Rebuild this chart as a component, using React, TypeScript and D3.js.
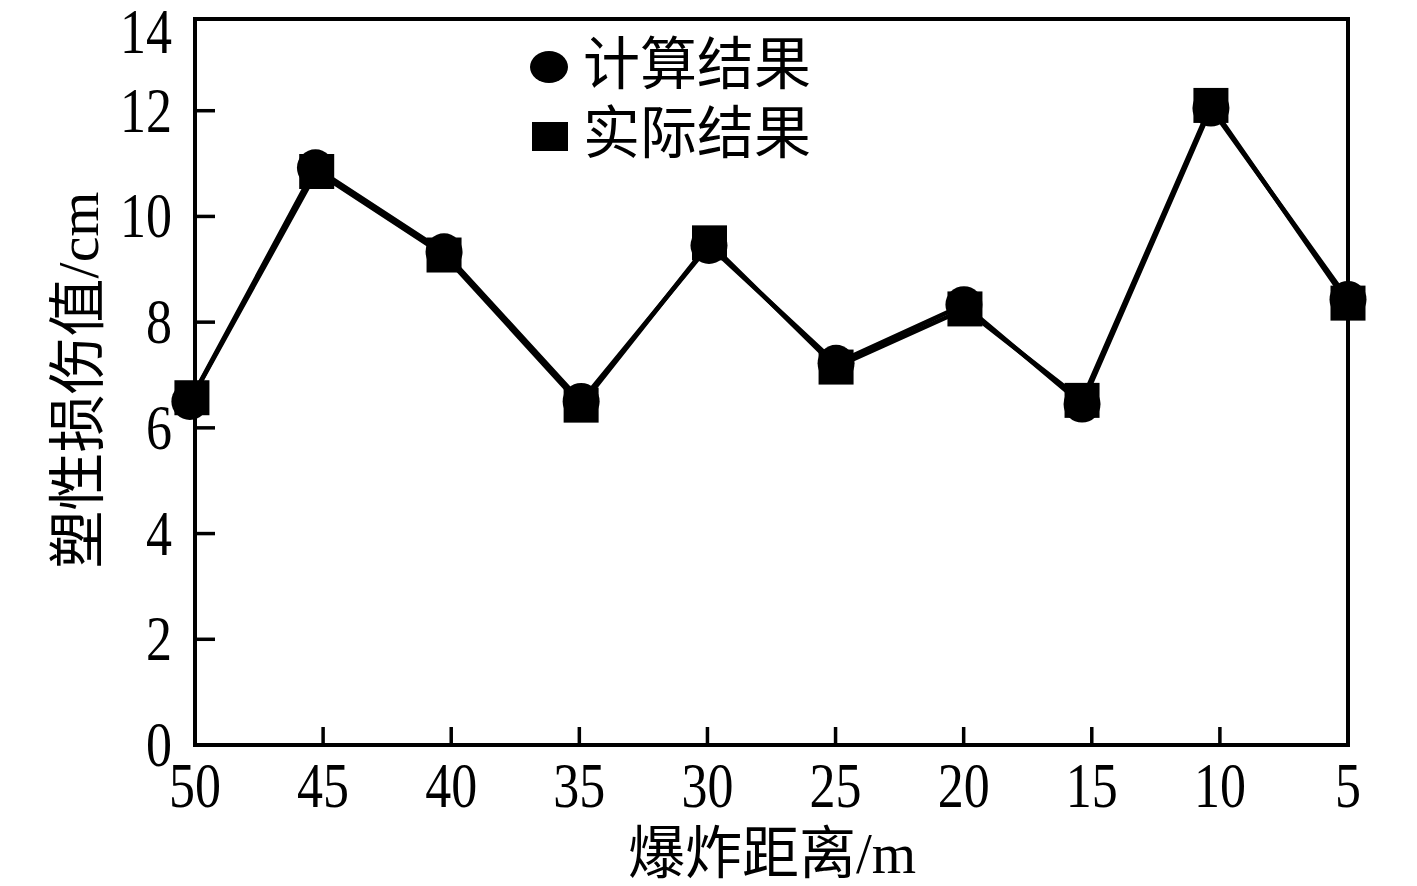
import React from "react";
import * as d3 from "d3";

// Tick values
const xTicks = [50, 45, 40, 35, 30, 25, 20, 15, 10, 5];
const yTicks = [0, 2, 4, 6, 8, 10, 12, 14];

// 计算结果 (circles): distance positions as read, values
const calcX = [50.2, 45.3, 40.28, 34.93, 29.94, 24.98, 19.99, 15.38, 10.35, 5.0];
const calcY = [6.5, 10.92, 9.33, 6.5, 9.45, 7.22, 8.33, 6.45, 12.05, 8.43];

// 实际结果 (squares)
const actualX = [50.12, 45.25, 40.28, 34.93, 29.92, 24.98, 19.95, 15.38, 10.35, 5.0];
const actualY = [6.57, 10.85, 9.27, 6.43, 9.5, 7.15, 8.25, 6.52, 12.1, 8.36];

const legendLabels = ["计算结果", "实际结果"];
const xTitle = "爆炸距离/m";
const yTitle = "塑性损伤值/cm";

const W = 1417;
const H = 886;
const left = 195;
const right = 1348;
const frameTop = 19;
const bottom = 745;

const FONT = "'Liberation Serif', 'Times New Roman', 'Noto Sans CJK SC', serif";
const TICK_FS = 52;
const STRETCH = 1.2;

export default function App() {
  const x = d3.scaleLinear().domain([50, 5]).range([left, right]);
  const y = d3.scaleLinear().domain([0, 14]).range([bottom, 5]);

  const calc = calcX.map((d, i) => [x(d), y(calcY[i])] as [number, number]);
  const actual = actualX.map((d, i) => [x(d), y(actualY[i])] as [number, number]);
  const line = d3.line();

  const sq = 35;
  const r = 18.5;

  return (
    <svg
      width={W}
      height={H}
      style={{ position: "absolute", left: 0, top: 0, background: "#fff" }}
      fontFamily={FONT}
    >
      <rect x={0} y={0} width={W} height={H} fill="#fff" />
      {/* frame */}
      <rect
        x={left}
        y={frameTop}
        width={right - left}
        height={bottom - frameTop}
        fill="none"
        stroke="#000"
        strokeWidth={4}
      />
      {/* y ticks */}
      {yTicks.map((t) => {
        const yy = y(t);
        const inside = yy >= frameTop && yy < bottom - 1;
        const ly = Math.max(yy, frameTop + 13) + 21;
        return (
          <g key={"y" + t}>
            {inside && (
              <line x1={left} x2={left + 20} y1={yy} y2={yy} stroke="#000" strokeWidth={3.5} />
            )}
            <text
              transform={`translate(172, ${ly}) scale(1, ${STRETCH})`}
              textAnchor="end"
              fontSize={TICK_FS}
              fill="#000"
            >
              {t}
            </text>
          </g>
        );
      })}
      {/* x ticks */}
      {xTicks.map((t, i) => {
        const xx = x(t);
        const inner = i > 0 && i < xTicks.length - 1;
        return (
          <g key={"x" + t}>
            {inner && (
              <line x1={xx} x2={xx} y1={bottom} y2={bottom - 18} stroke="#000" strokeWidth={3.5} />
            )}
            <text
              transform={`translate(${xx}, 807) scale(1, ${STRETCH})`}
              textAnchor="middle"
              fontSize={TICK_FS}
              fill="#000"
            >
              {t}
            </text>
          </g>
        );
      })}
      {/* axis titles */}
      <text x={772} y={873} textAnchor="middle" fontSize={57} fill="#000">
        {xTitle}
      </text>
      <text
        transform={`translate(98, 380) rotate(-90)`}
        textAnchor="middle"
        fontSize={58}
        fill="#000"
      >
        {yTitle}
      </text>
      {/* lines */}
      <path d={line(calc) || ""} fill="none" stroke="#000" strokeWidth={4.5} strokeLinejoin="round" />
      <path d={line(actual) || ""} fill="none" stroke="#000" strokeWidth={4.5} strokeLinejoin="round" />
      {/* markers */}
      {actual.map(([px, py], i) => (
        <rect key={"s" + i} x={px - sq / 2} y={py - sq / 2} width={sq} height={sq} fill="#000" />
      ))}
      {calc.map(([px, py], i) => (
        <circle key={"c" + i} cx={px} cy={py} r={r} fill="#000" />
      ))}
      {/* legend */}
      <ellipse cx={549} cy={67} rx={19} ry={16} fill="#000" />
      <text x={583} y={84} fontSize={57} fill="#000">
        {legendLabels[0]}
      </text>
      <rect x={532} y={122} width={36} height={29} fill="#000" />
      <text x={583} y={153} fontSize={57} fill="#000">
        {legendLabels[1]}
      </text>
    </svg>
  );
}
